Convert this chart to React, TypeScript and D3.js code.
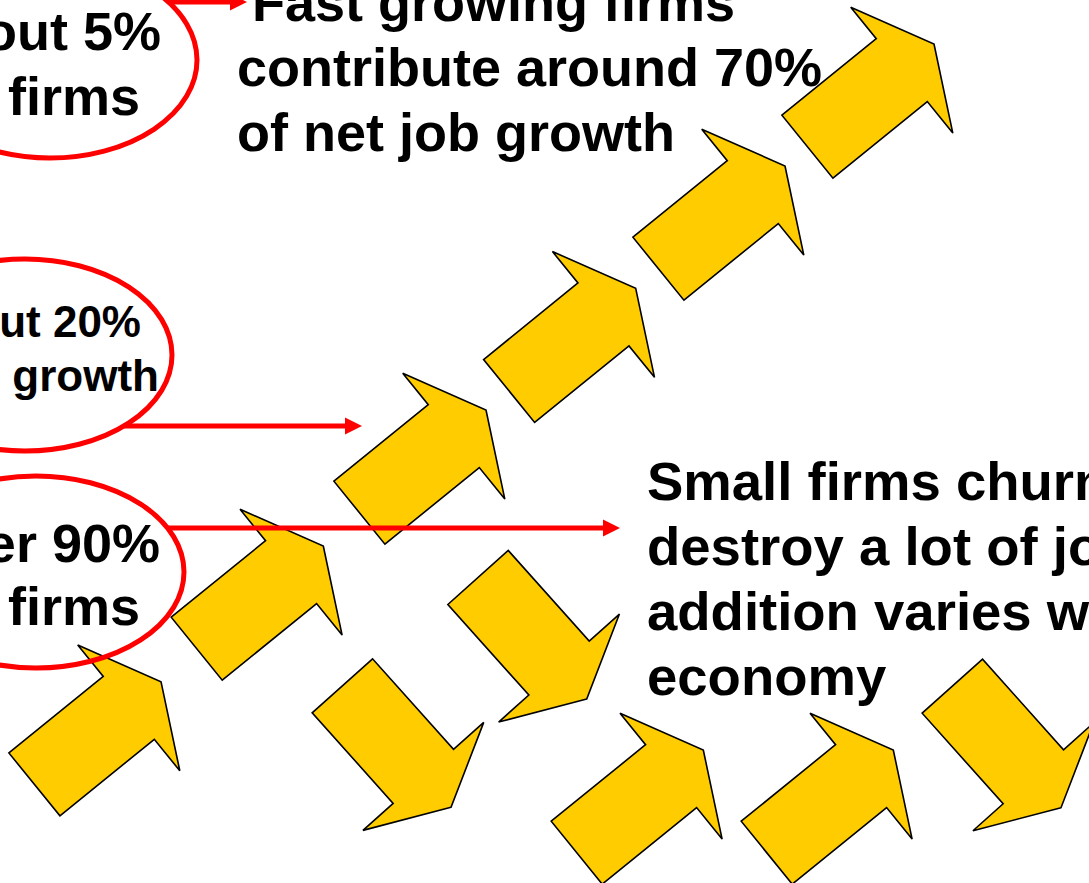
import React from "react";
import * as d3 from "d3";

const W = 1089;
const H = 883;

// Tip positions of the yellow block arrows (diagram coordinates)
const upArrowTips: [number, number][] = [
  [161, 681.7],
  [323.3, 546],
  [486, 410],
  [635.7, 288.3],
  [785, 166],
  [934, 44],
  [703.3, 750],
  [893.3, 750],
];
const downArrowTips: [number, number][] = [
  [451, 807.3],
  [586.7, 699],
  [1061, 807.7],
];
const upAngle = -39.05;
const downAngle = 48.2;

// Red ellipses: [cx, cy, rx, ry]
const ellipses: [number, number, number, number][] = [
  [50, 60, 147, 98],
  [25, 355, 147, 96],
  [36, 572, 148, 96],
];

// Red pointer lines: [ellipse index, y, tip x]
const pointers: [number, number, number][] = [
  [0, 2, 247],
  [1, 426, 362],
  [2, 528, 620],
];

const ellipseLabels = [
  { lines: ["About 5%", "of firms"], ends: [161, 140], baselines: [50, 115], size: 54 },
  { lines: ["About 20%", "of job growth"], ends: [141, 159], baselines: [337, 391], size: 44 },
  { lines: ["Over 90%", "of firms"], ends: [160, 140], baselines: [562, 625], size: 54 },
];

const topText = ["Fast growing firms", "contribute around 70%", "of net job growth"];
const topTextX = [252, 237, 237];
const topBaselines = [21, 86, 151];

const rightText = ["Small firms churn –", "destroy a lot of jobs, job", "addition varies with", "economy"];
const rightBaselines = [500, 565, 630, 695];

// Arrow shape in local coords (along axis, across axis), relative to tip
const HEAD_LEN = 41.5;
const TOTAL_LEN = 163;
const SHAFT_HALF = 40.5;
const HEAD_HALF = 81;
const arrowLocal: [number, number][] = [
  [0, 0],
  [-HEAD_LEN, HEAD_HALF],
  [-HEAD_LEN, SHAFT_HALF],
  [-TOTAL_LEN, SHAFT_HALF],
  [-TOTAL_LEN, -SHAFT_HALF],
  [-HEAD_LEN, -SHAFT_HALF],
  [-HEAD_LEN, -HEAD_HALF],
];

function arrowPath(tip: [number, number], angleDeg: number): string {
  const t = (angleDeg * Math.PI) / 180;
  const ux = Math.cos(t), uy = Math.sin(t);
  const nx = -Math.sin(t), ny = Math.cos(t);
  const pts: [number, number][] = arrowLocal.map(([a, b]) => [
    tip[0] + a * ux + b * nx,
    tip[1] + a * uy + b * ny,
  ]);
  return (d3.line().curve(d3.curveLinearClosed)(pts) as string);
}

const FONT = "'Liberation Sans', Arial, Helvetica, sans-serif";

export default function App() {
  const headLen = 17;
  const headHalf = 8.5;
  return (
    <svg
      width={W}
      height={H}
      viewBox={`0 0 ${W} ${H}`}
      style={{ position: "absolute", left: 0, top: 0, display: "block", background: "#fff" }}
    >
      <rect x={0} y={0} width={W} height={H} fill="#ffffff" />
      {/* Texts */}
      <g fontFamily={FONT} fontWeight="bold" fill="#000">
        {topText.map((t, i) => (
          <text key={"t" + i} x={topTextX[i]} y={topBaselines[i]} fontSize={54}>
            {t}
          </text>
        ))}
        {rightText.map((t, i) => (
          <text key={"r" + i} x={647} y={rightBaselines[i]} fontSize={54.5}>
            {t}
          </text>
        ))}
        {ellipseLabels.map((lab, j) =>
          lab.lines.map((t, i) => (
            <text
              key={"e" + j + "-" + i}
              x={lab.ends[i]}
              y={lab.baselines[i]}
              fontSize={lab.size}
              textAnchor="end"
            >
              {t}
            </text>
          ))
        )}
      </g>
      {/* Yellow arrows */}
      <g fill="#FFCC00" stroke="#000" strokeWidth={1.6} strokeLinejoin="miter">
        {upArrowTips.map((tp, i) => (
          <path key={"u" + i} d={arrowPath(tp, upAngle)} />
        ))}
        {downArrowTips.map((tp, i) => (
          <path key={"d" + i} d={arrowPath(tp, downAngle)} />
        ))}
      </g>
      {/* Red ellipses */}
      <g fill="none" stroke="#FF0000" strokeWidth={5}>
        {ellipses.map(([cx, cy, rx, ry], i) => (
          <ellipse key={"el" + i} cx={cx} cy={cy} rx={rx} ry={ry} />
        ))}
      </g>
      {/* Red pointers */}
      <g>
        {pointers.map(([ei, y, tipX], i) => {
          const [cx, cy, rx, ry] = ellipses[ei];
          const k = (y - cy) / ry;
          const startX = cx + rx * Math.sqrt(Math.max(0, 1 - k * k));
          const head = d3.line().curve(d3.curveLinearClosed)([
            [tipX, y],
            [tipX - headLen, y - headHalf],
            [tipX - headLen, y + headHalf],
          ]) as string;
          return (
            <g key={"p" + i}>
              <line x1={startX} y1={y} x2={tipX - headLen + 1} y2={y} stroke="#FF0000" strokeWidth={5} />
              <path d={head} fill="#FF0000" />
            </g>
          );
        })}
      </g>
    </svg>
  );
}
